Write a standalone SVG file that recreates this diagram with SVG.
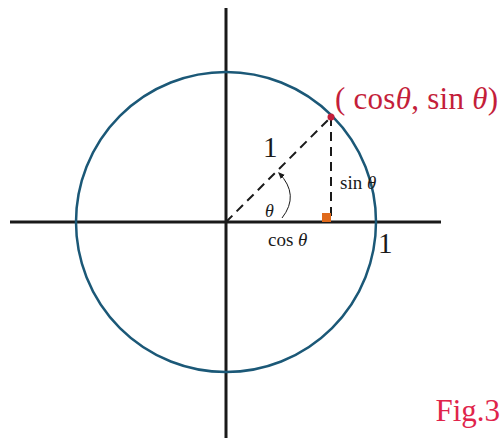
<svg xmlns="http://www.w3.org/2000/svg" width="501" height="439" viewBox="0 0 501 439">
<style>
.axis{stroke:#1a1a1a;stroke-width:3;fill:none}
.dash{stroke:#1a1a1a;stroke-width:2;stroke-dasharray:9,6;fill:none}
.t{font-family:"Liberation Serif",serif;fill:#1a1a1a}
.red{font-family:"Liberation Serif",serif;fill:#c41e3a}
</style>
<defs>
<marker id="ah" viewBox="0 0 10 10" refX="8" refY="5" markerWidth="7" markerHeight="7" orient="auto-start-reverse">
<path d="M0,1 L10,5 L0,9 z" fill="#1a1a1a"/>
</marker>
</defs>
<rect width="501" height="439" fill="#fff"/>
<g id="axes">
<line class="axis" x1="10" y1="222" x2="441" y2="222"/>
<line class="axis" x1="226" y1="8" x2="226" y2="438"/>
</g>
<g id="circle">
<circle cx="226" cy="222" r="150" fill="none" stroke="#1b5877" stroke-width="2.5"/>
</g>
<g id="connectors">
<line class="dash" x1="226" y1="222" x2="331" y2="117"/>
<line class="dash" x1="331" y1="117" x2="331" y2="222"/>
<path d="M282,218 Q300,195 279,173" fill="none" stroke="#1a1a1a" stroke-width="1" marker-end="url(#ah)"/>
</g>
<g id="right-angle">
<rect x="322" y="213" width="9" height="9" fill="#e06a1b"/>
</g>
<g id="point">
<circle cx="331" cy="117" r="3.5" fill="#c41e3a"/>
<text class="red" x="335" y="109" font-size="31" textLength="163" lengthAdjust="spacing">( cos<tspan font-style="italic">θ</tspan>, sin <tspan font-style="italic">θ</tspan>)</text>
</g>
<g id="labels">
<text class="t" x="263" y="157" font-size="29">1</text>
<text class="t" x="378" y="253" font-size="29">1</text>
<text class="t" x="265" y="217" font-size="18" font-style="italic">θ</text>
<text class="t" x="268" y="246" font-size="19">cos <tspan font-style="italic">θ</tspan></text>
<text class="t" x="340" y="189" font-size="19">sin <tspan font-style="italic">θ</tspan></text>
<text class="red" x="500" y="421" font-size="31" text-anchor="end" style="fill:#e0244b">Fig.3</text>
</g>
</svg>
